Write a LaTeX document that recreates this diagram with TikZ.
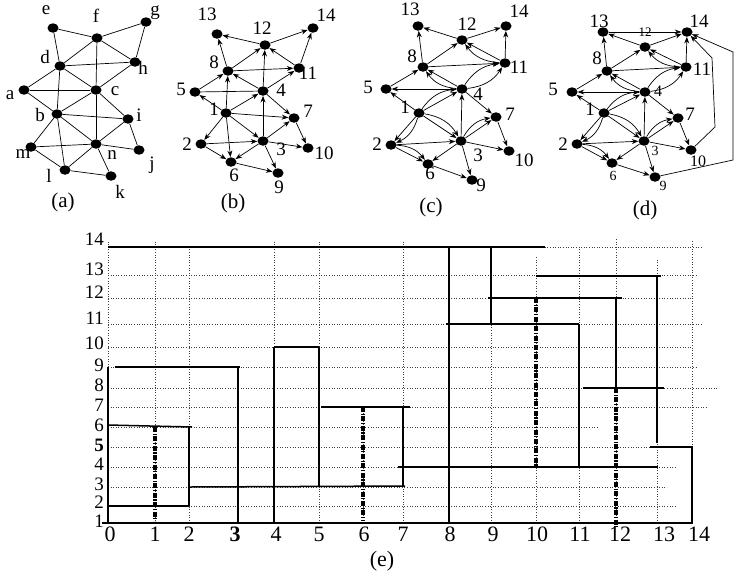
\documentclass[tikz,border=0pt]{standalone}
\usepackage{fontspec}
\setmainfont{Liberation Serif}
\usetikzlibrary{arrows.meta,shapes.geometric}
\begin{document}
\begin{tikzpicture}[x=1pt,y=-1pt,
  vx/.style={ellipse,fill=black,inner sep=0pt,minimum width=11pt,minimum height=9.5pt},
  tx/.style={inner sep=0pt,text height=0.68em,text depth=0pt},
  lb/.style={tx,font=\fontsize{19}{19}\selectfont},
  lbm/.style={tx,font=\fontsize{16}{16}\selectfont},
  lbs/.style={tx,font=\fontsize{14}{14}\selectfont},
  lbx/.style={tx,font=\fontsize{13}{13}\selectfont},
  subcap/.style={inner sep=0pt,font=\fontsize{21}{21}\selectfont},
  axl/.style={tx,font=\fontsize{22}{22}\selectfont},
  ayl/.style={tx,anchor=east,font=\fontsize{19}{19}\selectfont},
  ed/.style={line width=0.7pt},
  ar/.style={ed,-{Stealth[length=6.5pt,width=5pt]}},
  grd/.style={dotted,line width=0.6pt,black!75},
  sl/.style={line width=1.5pt},
  dd/.style={line width=3.2pt,dash pattern=on 5pt off 1.6pt on 1.2pt off 1.6pt},
]
\useasboundingbox (0,0) rectangle (735,582);

% ---------------- (a) ----------------
\foreach \n/\x/\y in {e/53/28,f/97/38,g/146/22,d/60/66,h/135/62,a/24/90,c/96/90,b/57/114,i/128/119,m/31/147,n/96/144,j/139/150,l/65/170,k/111/176}
  \node[vx] (a-\n) at (\x,\y) {};
\foreach \n/\x/\y in {e/46/12,f/96/20,g/155/13,d/45/61,h/143/72,a/10/97,c/115/93,b/40/119,i/139/119,m/23/156,n/112/157,j/152/167,l/49/180,k/120/196}
  \node[lb,text height=1.3ex] (la-\n) at (\x,\y) {\n};
\node[subcap] (capa) at (63,202) {(a)};
\foreach \u/\v in {e/f,f/g,e/d,f/d,f/c,f/h,g/h,d/h,d/c,h/c,d/a,d/b,a/c,a/b,b/c,c/i,c/n,b/i,b/n,b/m,b/l,i/n,i/j,m/n,m/l,l/n,n/k,l/k,n/j}
  \draw[ed] (a-\u) -- (a-\v);

% ---------------- (b) ----------------
\foreach \n/\x/\y in {13/217/34,12/265/45,14/313/28,8/228/71,11/299/68,5/195/92,4/263/91,1/226/113,7/294/118,2/201/144,3/263/141,10/308/148,6/231/162,9/278/173}
  \node[vx] (b-\n) at (\x,\y) {};
\foreach \n/\x/\y in {13/207/17,12/262/31,14/326/18,8/214/65,11/308/76,5/181/92,4/281/93,1/214/112,7/308/114,2/187/147,3/281/152,10/324/156,6/234/178,9/279/190}
  \node[lb] (lb-\n) at (\x,\y) {\n};
\node[subcap] (capb) at (233,203) {(b)};
\foreach \u/\v in {12/13,12/14,8/13,8/12,4/12,11/12,11/14,8/11,4/8,5/8,4/11,1/5,1/8,1/4,1/7,1/3,1/2,1/6,4/7,3/4,3/7,2/3,2/6,3/6,3/9,3/10,7/10,6/9}
  \draw[ar] (b-\u) -- (b-\v);
\draw[ed] (b-5) -- (b-4);

% ---------------- (c) ----------------
\foreach \n/\x/\y in {13/418/26,12/462/40,14/506/26,8/423/67,11/505/63,5/386/89,4/462/89,1/419/113,7/496/117,2/391/145,3/461/141,10/509/151,6/428/164,9/472/180}
  \node[vx] (c-\n) at (\x,\y) {};
\foreach \n/\x/\y in {13/410/12,12/467/27,14/519/14,8/412/59,11/519/70,5/368/90,4/478/97,1/405/110,7/510/117,2/377/147,3/478/158,10/524/163,6/430/176,9/481/188}
  \node[lb] (lc-\n) at (\x,\y) {\n};
\node[subcap] (capc) at (431,207) {(c)};
\foreach \u/\v in {12/13,12/14,8/13,8/12,11/12,11/14,8/11,4/8,4/5,1/5,5/8,1/4,1/3,1/2,4/7,3/4,3/7,3/10,3/9,3/6,2/3,2/6,6/9,7/10}
  \draw[ar] (c-\u) -- (c-\v);
\foreach \u/\v in {11/12,4/8,1/4,1/2,1/3,2/6,3/7,4/11}
  \draw[ar] (c-\u) to[bend left=25] (c-\v);
\draw[ar] (c-4) to[bend right=25] (c-11);

% ---------------- (d) ----------------
\foreach \n/\x/\y in {13/603/32,14/687/32,12/645/47,8/607/71,11/686/67,5/572/92,4/645/92,1/604/113,7/678/118,2/577/144,3/644/141,10/691/150,6/612/163,9/655/177}
  \node[vx] (d-\n) at (\x,\y) {};
\foreach \n/\x/\y in {13/599/24,14/699/24,8/597/61,11/702/72,5/553/92,1/590/112,7/690/117,2/563/147}
  \node[lb] (ld-\n) at (\x,\y) {\n};
\foreach \n/\x/\y in {4/658/93,10/698/163}
  \node[lbm] (ld-\n) at (\x,\y) {\n};
\foreach \n/\x/\y in {3/655/152,6/613/177,9/663/187}
  \node[lbs] (ld-\n) at (\x,\y) {\n};
\node[lbx] (ld-12) at (645,33) {12};
\node[subcap] (capd) at (645,210) {(d)};
\foreach \u/\v in {12/13,12/14,8/13,8/12,11/12,11/14,8/11,4/8,4/5,1/5,5/8,1/4,1/3,1/2,4/7,3/4,3/7,3/10,3/9,3/6,2/3,2/6,6/9,7/10,13/14}
  \draw[ar] (d-\u) -- (d-\v);
\foreach \u/\v in {11/12,4/8,1/4,1/2,1/3,2/6,3/7,4/11}
  \draw[ar] (d-\u) to[bend left=25] (d-\v);
\draw[ar] (d-4) to[bend right=25] (d-11);
\coordinate (dp1) at (715,127);
\coordinate (dp2) at (712,58);
\draw[ar] (d-10) -- (dp1) -- (dp2) -- (d-14);
\coordinate (dq1) at (733,160);
\coordinate (dq2) at (733,52);
\draw[ar] (d-9) -- (dq1) -- (dq2) -- (d-14);

% ---------------- (e) ----------------
% dotted grid
\foreach \y/\r in {506/677,487/667,467/677,447/650,427/597,407/707,388/719,367/698,347/693,324/703,298/693,275/697,247/702}
  \draw[grd] (108,\y) -- (\r,\y);
\foreach \x/\t in {108/240,155/240,189/247,238/367,274/242,319/242,363/407,403/240,491/247,536/257,579/247,616/239,657/258}
  \draw[grd] (\x,523) -- (\x,\t);
\draw[grd] (692,241) -- (692,447);

% solid intervals
\draw[sl] (108,247) -- (545,247);
\draw[sl] (449,247) -- (449,523);
\draw[sl] (491,247) -- (491,324);
\draw[sl] (446,324) -- (579,324);
\draw[sl] (579,324) -- (579,467);
\draw[sl] (488,298) -- (622,298);
\draw[sl] (616,298) -- (616,388);
\draw[sl] (536,276) -- (661,276);
\draw[sl] (657,276) -- (657,443);
\draw[sl] (583,388) -- (664,388);
\draw[sl] (650,447) -- (692,447) -- (692,523) -- (102,523);
\draw[sl] (398,467) -- (658,467);
\draw[sl] (403,407) -- (403,486);
\draw[sl] (321,407) -- (410,407);
\draw[sl] (319,347) -- (319,487);
\draw[sl] (274,347) -- (319,347);
\draw[sl] (274,347) -- (274,523);
\draw[sl] (189,487) -- (405,486);
\draw[sl] (115,367) -- (240,367);
\draw[sl] (108,367) -- (108,523);
\draw[sl] (238,367) -- (238,523);
\draw[sl] (108,425) -- (192,427);
\draw[sl] (189,427) -- (189,506);
\draw[sl] (108,506) -- (189,506);
% dash-dot
\draw[dd] (155,427) -- (155,521);
\draw[dd] (363,407) -- (363,521);
\draw[dd] (536,298) -- (536,466);
\draw[dd] (616,388) -- (616,527);

% axis labels
\foreach \v/\x in {0/110,1/155,2/189,4/276,5/319,6/364,7/403,8/450,9/493,10/537,11/580,12/620,13/664,14/699}
  \node[axl] (xl-\v) at (\x,538) {\v};
\node[axl,font=\fontsize{22}{22}\selectfont\bfseries] (xl-3) at (235,538) {3};
\foreach \v/\y in {14/242,13/272,12/295,11/321,10/346,9/368,8/388,7/408,6/428,4/467,3/487,2/505,1/524}
  \node[ayl] (yl-\v) at (104,\y) {\v};
\node[ayl,font=\fontsize{19}{19}\selectfont\bfseries] (yl-5) at (104,448) {5};
\node[subcap,font=\fontsize{22}{22}\selectfont] (cape) at (382,561) {(e)};
\end{tikzpicture}
\end{document}
